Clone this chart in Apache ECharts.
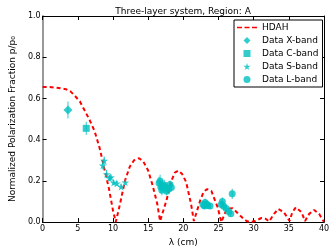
<!DOCTYPE html>
<html><head><meta charset="utf-8">
<script src="https://cdn.jsdelivr.net/npm/echarts@6/dist/echarts.min.js"></script>
<style>html,body{margin:0;padding:0;background:#fff}#c{width:336px;height:252px}</style>
</head><body><div id="c"></div>
<script>
var title = 'Three-layer system, Region: A';
var xLabel = 'λ (cm)';
var yLabel = 'Normalized Polarization Fraction p/p₀';
var xTicks = [0, 5, 10, 15, 20, 25, 30, 35, 40];
var yTicks = [0.0, 0.2, 0.4, 0.6, 0.8, 1.0];
var seriesNames = ['HDAH', 'Data X-band', 'Data C-band', 'Data S-band', 'Data L-band'];

var hdah = [[0,0.655],[1,0.655],[2,0.652],[2.8,0.648],[3.3,0.645],[4,0.633],[4.6,0.612],[5.3,0.585],[6,0.54],[6.7,0.494],[7.4,0.44],[8.1,0.36],[8.75,0.263],[9.4,0.167],[10,0.057],[10.4,0.0],[11,0.088],[11.7,0.2],[12.4,0.27],[13,0.3],[13.7,0.31],[14.3,0.295],[15,0.25],[15.6,0.183],[16.3,0.088],[16.7,0.005],[17.6,0.105],[18.3,0.2],[18.8,0.24],[19.3,0.25],[19.8,0.235],[20.4,0.195],[21.1,0.088],[21.5,0.005],[22.4,0.105],[22.9,0.148],[23.4,0.16],[24.0,0.15],[24.9,0.07],[25.4,0.0],[26.1,0.057],[26.6,0.066],[27.0,0.067],[27.6,0.048],[28.3,0.024],[29.0,0.005],[29.5,0],[30.2,0.005],[31.1,0.02],[31.7,0.016],[32.2,0.003],[32.9,0.04],[33.5,0.064],[34.3,0.048],[35.1,0.005],[35.5,0.048],[36.0,0.072],[36.8,0.048],[37.3,0.005],[37.9,0.04],[38.6,0.059],[39.3,0.04],[40,0]];

// [lambda, p/p0, error]
var xBand = [[3.6,0.544,0.041]];
var cBand = [[6.2,0.455,0.032]];
var sBand = [[8.55,0.275,0.02],[8.75,0.298,0.02],[9.1,0.233,0.02],[9.5,0.214,0.015],[9.7,0.218,0.015],[10.1,0.192,0.012],[10.55,0.188,0.012],[11.15,0.172,0.012],[11.75,0.193,0.012]];
var lBand = [[16.55,0.19,0.03],[16.7,0.2,0.03],[16.8,0.17,0.03],[16.95,0.155,0.025],[17.05,0.175,0.03],[17.3,0.18,0.025],[17.5,0.168,0.025],[17.65,0.15,0.02],[17.9,0.16,0.02],[18.1,0.182,0.02],[18.3,0.168,0.02],
  [22.8,0.085,0.02],[23.0,0.078,0.015],[23.1,0.095,0.02],[23.3,0.088,0.015],[23.5,0.08,0.015],[23.8,0.078,0.015],
  [25.4,0.085,0.02],[25.55,0.1,0.02],[25.75,0.077,0.02],[26.1,0.066,0.015],[26.45,0.052,0.015],[26.75,0.04,0.015],[26.95,0.137,0.025]];

var cyan = '#00BFBF';
var starPath = 'path://M50,0 L61,35 L98,35 L68,57 L79,91 L50,70 L21,91 L32,57 L2,35 L39,35 Z';
var diamondPath = 'path://M50,0 L100,50 L50,100 L0,50 Z';
var rectPath = 'path://M0,0 L100,0 L100,100 L0,100 Z';
var circlePath = 'path://M50,0 A50,50 0 1 1 49.9,0 Z';
var font = 'DejaVu Sans';

function errSeries(arr) {
  return {
    type: 'custom', silent: true, z: 1,
    data: arr,
    renderItem: function (params, api) {
      var x = api.value(0), y = api.value(1), e = api.value(2);
      var p1 = api.coord([x, y - e]), p2 = api.coord([x, y + e]);
      return { type: 'line', shape: { x1: p1[0], y1: p1[1], x2: p2[0], y2: p2[1] },
        style: { stroke: cyan, lineWidth: 1, opacity: 0.8 } };
    }
  };
}
function pts(name, arr, sym, size) {
  return { name: name, type: 'scatter', symbol: sym, symbolSize: size, z: 3,
    data: arr.map(function (d) { return [d[0], d[1]]; }),
    itemStyle: { color: cyan } };
}

var chart = echarts.init(document.getElementById('c'));
var axisCommon = {
  axisLine: { show: true, onZero: false, lineStyle: { color: '#000', width: 1 } },
  axisTick: { show: true, inside: true, length: 4, lineStyle: { color: '#000' } },
  splitLine: { show: false }
};
chart.setOption({
  animation: false,
  backgroundColor: '#fff',
  title: { text: title, left: 178, top: 2, textAlign: 'center',
    textStyle: { fontFamily: font, fontSize: 9, fontWeight: 'normal', color: '#000' } },
  grid: { left: 31, right: 12, top: 16, bottom: 27 },
  legend: {
    data: [
      { name: 'HDAH', icon: 'path://M0,0 L6,0 L6,2 L0,2 Z M9,0 L15,0 L15,2 L9,2 Z M18,0 L24,0 L24,2 L18,2 Z' },
      { name: 'Data X-band', icon: diamondPath },
      { name: 'Data C-band', icon: rectPath },
      { name: 'Data S-band', icon: starPath },
      { name: 'Data L-band', icon: circlePath }
    ],
    orient: 'vertical', left: 234, top: 20, itemGap: 4, itemWidth: 20, itemHeight: 7,
    padding: [3, 4, 3, 3], borderColor: '#000', borderWidth: 1, backgroundColor: '#fff',
    borderRadius: 0,
    textStyle: { fontFamily: font, fontSize: 9, color: '#000' }
  },
  xAxis: [
    Object.assign({ type: 'value', min: 0, max: 40, interval: 5, position: 'bottom',
      name: xLabel, nameLocation: 'middle', nameGap: 14,
      nameTextStyle: { fontFamily: font, fontSize: 9, color: '#000' },
      axisLabel: { fontFamily: font, fontSize: 8, color: '#000', margin: 3 } }, axisCommon),
    Object.assign({ type: 'value', min: 0, max: 40, interval: 5, position: 'top',
      axisLabel: { show: false } }, axisCommon)
  ],
  yAxis: [
    Object.assign({ type: 'value', min: 0, max: 1, interval: 0.2, position: 'left',
      name: yLabel, nameLocation: 'middle', nameGap: 23,
      nameTextStyle: { fontFamily: font, fontSize: 9, color: '#000' },
      axisLabel: { fontFamily: font, fontSize: 8, color: '#000', margin: 2,
        formatter: function (v) { return v.toFixed(1); } } }, axisCommon,
      { axisLine: { show: true, onZero: false, lineStyle: { color: '#999', width: 2 } } }),
    Object.assign({ type: 'value', min: 0, max: 1, interval: 0.2, position: 'right',
      axisLabel: { show: false } }, axisCommon)
  ],
  series: [
    { name: 'HDAH', type: 'line', data: hdah, symbol: 'none', z: 2,
      lineStyle: { color: '#FF0000', width: 2, type: [4, 3] }, itemStyle: { color: '#FF0000' } },
    errSeries(xBand), errSeries(cBand), errSeries(sBand), errSeries(lBand),
    pts('Data X-band', xBand, 'diamond', 9),
    pts('Data C-band', cBand, 'rect', 7),
    pts('Data S-band', sBand, starPath, 8),
    pts('Data L-band', lBand, 'circle', 7)
  ]
});
</script></body></html>
